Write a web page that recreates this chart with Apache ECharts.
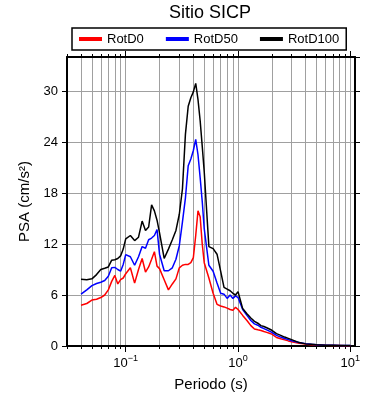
<!DOCTYPE html>
<html>
<head>
<meta charset="utf-8">
<script src="https://cdn.jsdelivr.net/npm/echarts@6/dist/echarts.min.js"></script>
<style>
  html, body { margin: 0; padding: 0; background: #fff; }
  #chart { width: 390px; height: 400px; }
</style>
</head>
<body>
<div id="chart"></div>
<script>
const periods = [0.04, 0.045, 0.05, 0.055, 0.06, 0.065, 0.07, 0.075, 0.08, 0.085, 0.09, 0.095,
  0.1, 0.11, 0.12, 0.13, 0.14, 0.15, 0.16, 0.17, 0.18, 0.19, 0.2,
  0.22, 0.24, 0.26, 0.28,
  0.3, 0.32, 0.34, 0.36, 0.38, 0.4, 0.42, 0.44, 0.46, 0.48, 0.5,
  0.55, 0.6, 0.65, 0.7, 0.75, 0.8, 0.85, 0.9, 0.95,
  1.0, 1.1, 1.2, 1.3, 1.4, 1.5, 1.6, 1.7, 1.8, 1.9, 2.0,
  2.2, 2.4, 2.6, 2.8,
  3.0, 3.5, 4.0, 4.5, 5.0,
  6, 7, 8, 9, 10];

const rotD0 = [4.8, 5.0, 5.4, 5.5, 5.7, 6.0, 6.6, 7.6, 8.3, 7.3, 7.8, 8.0,
  8.5, 9.2, 7.4, 9.0, 10.3, 8.7, 9.3, 10.2, 11.1, 9.4, 9.1,
  7.8, 6.6, 7.3, 7.9,
  9.2, 9.5, 9.6, 9.6, 9.8, 10.4, 13.0, 15.9, 15.2, 12.0, 9.8,
  8.0, 6.2, 4.9, 4.7, 4.6, 4.45, 4.3, 4.2, 4.55,
  4.3, 3.6, 3.0, 2.4, 2.0, 1.9, 1.82, 1.7, 1.6, 1.5, 1.4,
  1.0, 0.85, 0.72, 0.6,
  0.5, 0.33, 0.22, 0.16, 0.12,
  0.08, 0.06, 0.05, 0.04, 0.04];

const rotD50 = [6.1, 6.6, 7.1, 7.35, 7.5, 7.7, 8.2, 9.2, 9.25, 9.0, 8.8, 9.6,
  10.75, 10.5, 9.5, 10.5, 11.7, 11.5, 12.5, 12.7, 13.0, 13.7, 10.8,
  8.85, 8.85, 9.2, 10.2,
  11.8, 14.6, 17.4, 21.2, 22.0, 23.0, 24.3, 22.5, 19.8, 17.0, 13.8,
  9.5, 8.8, 7.4, 6.2, 6.1, 5.6, 6.0, 5.6, 5.9,
  5.7, 4.3, 3.6, 3.0, 2.6, 2.45, 2.2, 2.05, 1.9, 1.75, 1.6,
  1.25, 1.05, 0.88, 0.75,
  0.62, 0.4, 0.28, 0.2, 0.15,
  0.1, 0.08, 0.06, 0.05, 0.05];

const rotD100 = [7.85, 7.8, 7.9, 8.4, 9.0, 9.15, 9.3, 10.1, 10.15, 10.3, 10.6, 11.4,
  12.6, 13.0, 12.4, 12.8, 14.7, 13.6, 14.0, 16.6, 15.9, 14.8, 13.3,
  10.3, 11.4, 12.5, 13.6,
  15.5, 18.5, 24.9, 28.2, 29.2, 29.9, 30.9, 29.0, 26.5, 23.5, 20.5,
  11.7, 11.45, 10.8, 8.8, 6.9, 6.7, 6.5, 6.2, 6.0,
  6.4, 4.4, 3.8, 3.3, 2.9, 2.68, 2.4, 2.3, 2.15, 2.0, 1.85,
  1.45, 1.25, 1.05, 0.9,
  0.75, 0.4, 0.25, 0.2, 0.15,
  0.1, 0.08, 0.06, 0.05, 0.05];

const seriesNames = ["RotD0", "RotD50", "RotD100"];
const seriesColors = ["#ff0000", "#0000ff", "#000000"];
const majorTicks = [0.1, 1, 10];
const minorTicks = [0.03, 0.04, 0.05, 0.06, 0.07, 0.08, 0.09,
  0.2, 0.3, 0.4, 0.5, 0.6, 0.7, 0.8, 0.9,
  2, 3, 4, 5, 6, 7, 8, 9];

const gridColor = "#a0a0a0";

function xAxisConf(position, ticks, len, withLine, withLabels) {
  return {
    type: "log",
    logBase: 10,
    min: 0.03,
    max: 11,
    position: position,
    axisLine: { show: withLine, onZero: false, lineStyle: { color: "#000", width: 2 } },
    axisTick: { show: true, customValues: ticks, length: len, lineStyle: { color: "#000", width: 1 } },
    axisLabel: withLabels ? {
      show: true,
      customValues: ticks,
      margin: 8,
      color: "#000",
      fontSize: 13,
      fontFamily: "Liberation Sans",
      lineHeight: 18,
      formatter: (v) => {
        const e = Math.round(Math.log10(v));
        return "10{s|" + String(e).replace("-", "\u2212") + "}";
      },
      rich: { s: { fontSize: 9, verticalAlign: "top", fontFamily: "Liberation Sans", color: "#000" } }
    } : { show: false },
    splitLine: { show: position === "bottom", lineStyle: { color: gridColor, width: 1 } },
    minorTick: { show: false },
    name: withLabels ? "Periodo (s)" : "",
    nameLocation: "middle",
    nameGap: 27,
    nameTextStyle: { color: "#000", fontSize: 15, fontFamily: "Liberation Sans" }
  };
}

function yAxisConf(position, main) {
  return {
    type: "value",
    min: 0,
    max: 34,
    interval: 6,
    position: position,
    axisLine: { show: true, onZero: false, lineStyle: { color: "#000", width: 2 } },
    axisTick: { show: true, length: 5, lineStyle: { color: "#000", width: 1 } },
    axisLabel: main ? { show: true, margin: 9, color: "#000", fontSize: 13, fontFamily: "Liberation Sans", showMaxLabel: false,
      formatter: (v) => (v > 30 ? "" : String(v)) } : { show: false },
    splitLine: { show: main, lineStyle: { color: gridColor, width: 1 } },
    name: main ? "PSA (cm/s\u00b2)" : "",
    nameLocation: "middle",
    nameGap: 27,
    nameTextStyle: { color: "#000", fontSize: 15, fontFamily: "Liberation Sans" }
  };
}

const chart = echarts.init(document.getElementById("chart"), null, { renderer: "canvas" });

const values = [rotD0, rotD50, rotD100];

const option = {
  animation: false,
  backgroundColor: "#fff",
  title: {
    text: "Sitio SICP",
    left: 169,
    top: 4,
    padding: 0,
    textStyle: { color: "#000", fontSize: 18, fontWeight: "normal", fontFamily: "Liberation Sans" }
  },
  legend: {
    data: seriesNames.map((n) => ({ name: n, icon: "rect" })),
    left: 72,
    top: 28,
    padding: [3, 7],
    borderColor: "#000",
    borderWidth: 1.5,
    borderRadius: 0,
    itemWidth: 23,
    itemHeight: 4,
    itemGap: 22,
    textStyle: { color: "#000", fontSize: 13, fontFamily: "Liberation Sans", lineHeight: 16 }
  },
  grid: { left: 67, right: 35, top: 57, bottom: 54, containLabel: false },
  xAxis: [
    xAxisConf("bottom", majorTicks, 6, true, true),
    xAxisConf("bottom", minorTicks, 3, false, false),
    xAxisConf("top", majorTicks, 6, true, false),
    xAxisConf("top", minorTicks, 3, false, false)
  ],
  yAxis: [yAxisConf("left", true), yAxisConf("right", false)],
  series: seriesNames.map((name, k) => ({
    name: name,
    type: "line",
    xAxisIndex: 0,
    yAxisIndex: 0,
    symbol: "none",
    lineStyle: { color: seriesColors[k], width: 1.5 },
    itemStyle: { color: seriesColors[k] },
    data: periods.map((t, i) => [t, values[k][i]])
  }))
};

chart.setOption(option);
</script>
</body>
</html>
